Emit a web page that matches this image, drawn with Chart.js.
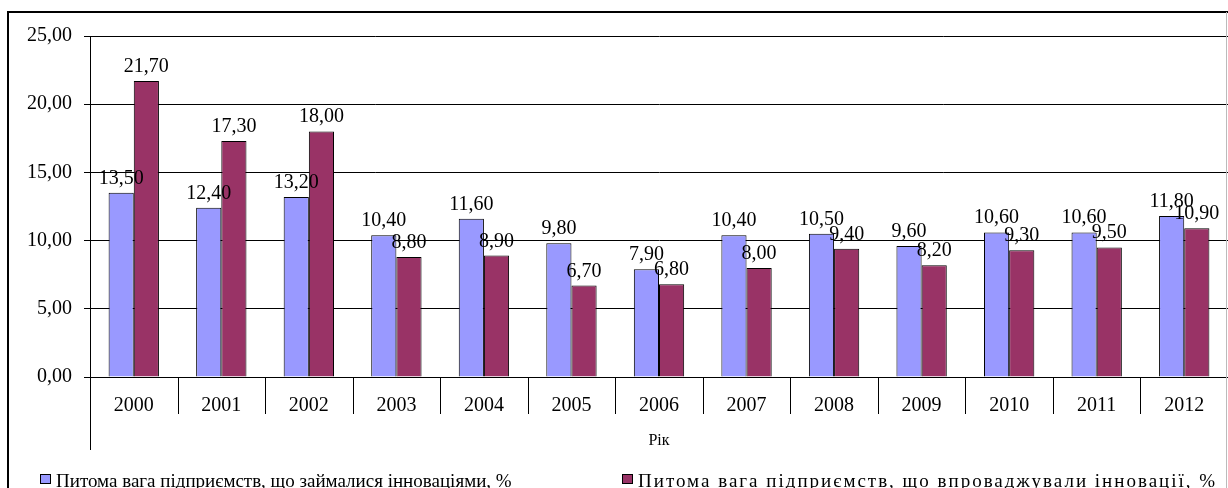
<!DOCTYPE html>
<html>
<head>
<meta charset="utf-8">
<script src="https://cdn.jsdelivr.net/npm/chart.js@4"></script>
<style>
  body { margin: 0; background: #fff; }
  #box { width: 1228px; height: 488px; position: relative; }
</style>
</head>
<body>
<div id="box"><canvas id="chart" width="1228" height="488"></canvas></div>
<script>
// data
var years = ["2000", "2001", "2002", "2003", "2004", "2005", "2006", "2007", "2008", "2009", "2010", "2011", "2012"];
var innovActive = [13.5, 12.4, 13.2, 10.4, 11.6, 9.8, 7.9, 10.4, 10.5, 9.6, 10.6, 10.6, 11.8];
var innovImplemented = [21.7, 17.3, 18.0, 8.8, 8.9, 6.7, 6.8, 8.0, 9.4, 8.2, 9.3, 9.5, 10.9];
var seriesNames = [
    "Питома вага підприємств, що займалися інноваціями, %",
    "Питома вага підприємств, що впроваджували інновації, %"
];
var yTicks = [0, 5, 10, 15, 20, 25];

var serif = "'Liberation Serif', 'Times New Roman', serif";

function fmt(v) {
    return Number(v).toFixed(2).replace(".", ",");
}

// frame around the chart + category separators + extended y axis + legend
var framePlugin = {
    id: "frame",
    beforeDraw: function(chart) {
        var ctx = chart.ctx;
        ctx.save();
        ctx.fillStyle = "#fff";
        ctx.fillRect(0, 0, chart.width, chart.height);
        ctx.strokeStyle = "#000";
        ctx.lineWidth = 2;
        ctx.beginPath();
        ctx.moveTo(8, chart.height);
        ctx.lineTo(8, 12);
        ctx.lineTo(chart.width, 12);
        ctx.stroke();
        ctx.restore();
    },
    afterDraw: function(chart) {
        var ctx = chart.ctx;
        var area = chart.chartArea;
        var x = chart.scales.x;
        var step = (area.right - area.left) / years.length;
        ctx.save();
        ctx.strokeStyle = "#000";
        ctx.lineWidth = 1;
        ctx.beginPath();
        for (var i = 1; i < years.length; i++) {
            var px = Math.round(area.left + step * i) + 0.5;
            ctx.moveTo(px, area.bottom);
            ctx.lineTo(px, area.bottom + 37);
        }
        var lx = Math.round(area.left) + 0.5;
        ctx.moveTo(lx, area.bottom);
        ctx.lineTo(lx, x.bottom);
        ctx.stroke();
        ctx.strokeStyle = "#bbb";
        ctx.beginPath();
        ctx.moveTo(chart.width - 1.5, 12);
        ctx.lineTo(chart.width - 1.5, chart.height);
        ctx.stroke();

        // legend
        var legendX = [40, 622];
        var spacing = ["0px", "2px"];
        ctx.font = "19px " + serif;
        ctx.textAlign = "left";
        ctx.textBaseline = "alphabetic";
        chart.data.datasets.forEach(function(ds, di) {
            ctx.fillStyle = ds.backgroundColor;
            ctx.fillRect(legendX[di], 474, 11, 10);
            ctx.strokeStyle = "#000";
            ctx.strokeRect(legendX[di] + 0.5, 474.5, 10, 9);
            ctx.fillStyle = "#000";
            ctx.letterSpacing = spacing[di];
            ctx.fillText(ds.label, legendX[di] + 16, 487);
        });
        ctx.restore();
    }
};

// value labels above bars
var labelPlugin = {
    id: "valueLabels",
    afterDatasetsDraw: function(chart) {
        var ctx = chart.ctx;
        ctx.save();
        ctx.font = "20px " + serif;
        ctx.fillStyle = "#000";
        ctx.textAlign = "center";
        ctx.textBaseline = "alphabetic";
        chart.data.datasets.forEach(function(ds, di) {
            var meta = chart.getDatasetMeta(di);
            meta.data.forEach(function(bar, i) {
                ctx.fillText(fmt(ds.data[i]), bar.x, bar.y - 9);
            });
        });
        ctx.restore();
    }
};

new Chart("chart", {
    type: "bar",
    data: {
        labels: years,
        datasets: [{
            label: seriesNames[0],
            data: innovActive,
            backgroundColor: "#9999FF",
            borderColor: "#000",
            borderWidth: 1,
            barPercentage: 1,
            categoryPercentage: 0.575
        }, {
            label: seriesNames[1],
            data: innovImplemented,
            backgroundColor: "#993366",
            borderColor: "#000",
            borderWidth: 1,
            barPercentage: 1,
            categoryPercentage: 0.575
        }]
    },
    plugins: [framePlugin, labelPlugin],
    options: {
        responsive: false,
        animation: false,
        layout: {
            padding: { top: 36, left: 0, right: 0, bottom: 38 }
        },
        plugins: {
            tooltip: { enabled: false },
            legend: { display: false }
        },
        scales: {
            x: {
                grid: { display: false },
                border: { display: true, color: "#000", width: 1 },
                ticks: {
                    color: "#000",
                    font: { family: serif, size: 20 },
                    padding: 9
                },
                title: {
                    display: true,
                    text: "Рік",
                    color: "#000",
                    font: { family: serif, size: 16 },
                    padding: { top: 4, bottom: 0 }
                },
                afterFit: function(scale) { scale.height = 73; }
            },
            y: {
                min: 0,
                max: 25,
                afterBuildTicks: function(scale) {
                    scale.ticks = yTicks.map(function(v) { return { value: v }; });
                },
                grid: { color: "#000", tickLength: 6 },
                border: { display: true, color: "#000", width: 1 },
                ticks: {
                    color: "#000",
                    font: { family: serif, size: 20 },
                    padding: 12,
                    callback: function(v) { return fmt(v); }
                },
                afterFit: function(scale) { scale.width = 90; }
            }
        }
    }
});
</script>
</body>
</html>
